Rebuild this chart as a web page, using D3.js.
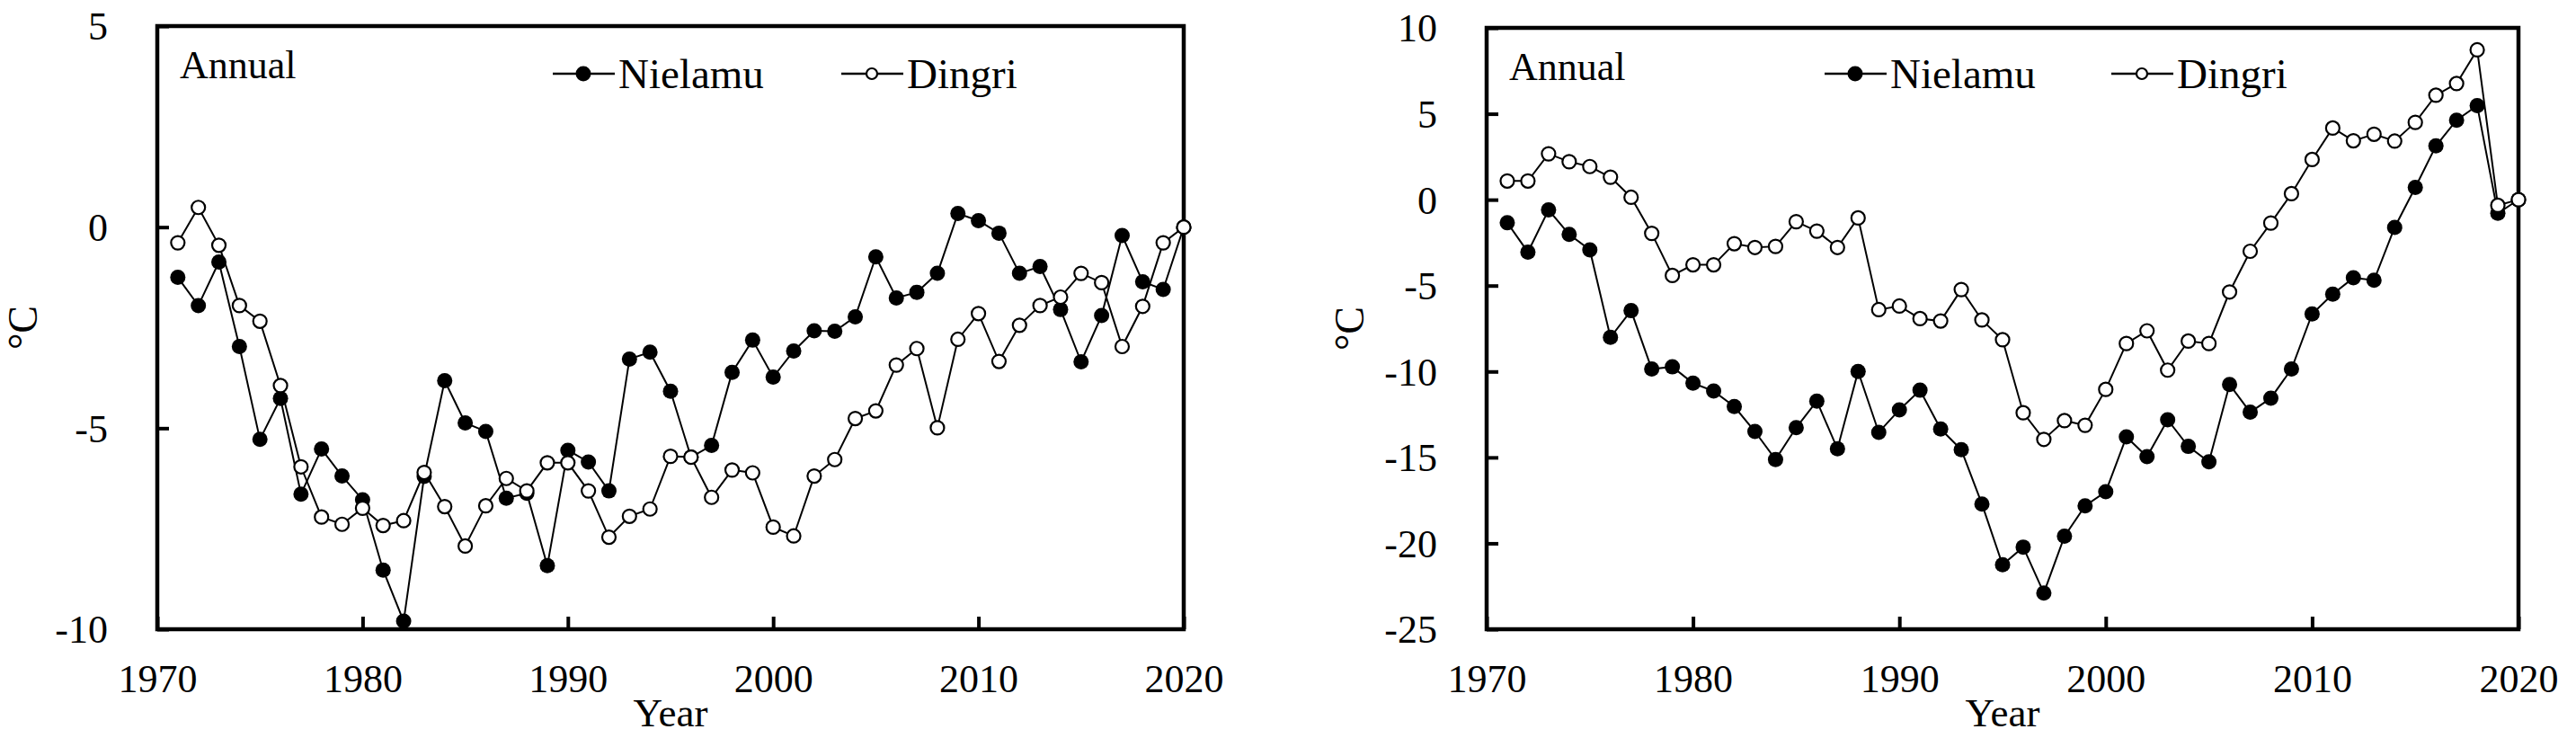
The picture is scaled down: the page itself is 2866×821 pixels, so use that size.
<!DOCTYPE html>
<html lang="en">
<head>
<meta charset="UTF-8">
<title>Annual Nielamu / Dingri</title>
<script src="https://d3js.org/d3.v7.min.js"></script>
<style>
  body { margin: 0; background: #fff; }
  svg { display: block; font-family: "Liberation Serif", "Times New Roman", serif; }
  svg text { font-family: "Liberation Serif", "Times New Roman", serif !important; }
</style>
</head>
<body>
<svg id="chart" width="2866" height="821"></svg>
<script>
// data
const years = d3.range(1971, 2021);

const nielamuLeft = [-1.25, -1.95, -0.87, -2.97, -5.28, -4.26, -6.64, -5.52, -6.19, -6.78,
  -8.53, -9.8, -6.2, -3.82, -4.87, -5.08, -6.74, -6.62, -8.42, -5.55,
  -5.84, -6.56, -3.28, -3.11, -4.08, -5.72, -5.43, -3.61, -2.81, -3.73,
  -3.08, -2.58, -2.59, -2.23, -0.74, -1.76, -1.62, -1.15, 0.34, 0.16,
  -0.15, -1.15, -0.98, -2.05, -3.35, -2.2, -0.21, -1.36, -1.55, 0];
const dingriLeft = [-0.39, 0.49, -0.45, -1.95, -2.34, -3.94, -5.96, -7.21, -7.39, -6.99,
  -7.42, -7.3, -6.1, -6.95, -7.93, -6.93, -6.25, -6.56, -5.86, -5.86,
  -6.56, -7.71, -7.19, -7.01, -5.7, -5.72, -6.72, -6.04, -6.11, -7.46,
  -7.68, -6.19, -5.78, -4.76, -4.57, -3.43, -3.02, -4.99, -2.79, -2.15,
  -3.34, -2.44, -1.95, -1.74, -1.15, -1.38, -2.97, -1.97, -0.39, 0];

const nielamuRight = [-1.34, -3.05, -0.6, -2.02, -2.92, -8.01, -6.46, -9.86, -9.73, -10.68,
  -11.14, -12.04, -13.49, -15.12, -13.27, -11.72, -14.5, -10.0, -13.54, -12.23,
  -11.09, -13.35, -14.55, -17.71, -21.25, -20.22, -22.89, -19.59, -17.82, -17.0,
  -13.81, -14.96, -12.81, -14.36, -15.26, -10.76, -12.37, -11.55, -9.86, -6.65,
  -5.5, -4.55, -4.69, -1.61, 0.71, 3.13, 4.63, 5.48, -0.79, 0];
const dingriRight = [1.09, 1.09, 2.67, 2.21, 1.93, 1.31, 0.14, -1.96, -4.41, -3.79,
  -3.79, -2.56, -2.78, -2.72, -1.28, -1.83, -2.78, -1.06, -6.4, -6.19,
  -6.92, -7.06, -5.23, -7.0, -8.15, -12.4, -13.95, -12.86, -13.13, -11.04,
  -8.37, -7.63, -9.92, -8.23, -8.37, -5.37, -3.0, -1.36, 0.35, 2.34,
  4.17, 3.43, 3.81, 3.41, 4.5, 6.08, 6.76, 8.72, -0.33, 0];

const xTicks = [1970, 1980, 1990, 2000, 2010, 2020];
const yTicksLeft = [5, 0, -5, -10];
const yTicksRight = [10, 5, 0, -5, -10, -15, -20, -25];
const seriesNames = ["Nielamu", "Dingri"];

const svg = d3.select("#chart");
const FONT = '"Liberation Serif", "Times New Roman", serif';

function panel(opts) {
  const { left, top, right, bottom, yDomain, yTicks, nielamu, dingri, legendX, ylabX } = opts;
  const g = svg.append("g");

  const x = d3.scaleLinear().domain([1970, 2020]).range([left, right]);
  const y = d3.scaleLinear().domain(yDomain).range([bottom, top]);

  // axes, ticks pointing inward; plain hyphen for negatives
  const xAxis = g.append("g")
    .attr("transform", `translate(0,${bottom})`)
    .call(d3.axisBottom(x).tickValues(xTicks).tickFormat(d => String(d))
      .tickSize(-14).tickPadding(39));
  const yAxis = g.append("g")
    .attr("transform", `translate(${left},0)`)
    .call(d3.axisLeft(y).tickValues(yTicks).tickFormat(d => String(d))
      .tickSize(-13).tickPadding(55));
  [xAxis, yAxis].forEach(a => {
    a.attr("font-family", null).attr("font-size", null);
    a.select(".domain").remove();
    a.selectAll(".tick line").attr("stroke", "#000").attr("stroke-width", 4);
    a.selectAll(".tick text").attr("fill", "#000")
      .style("font-family", FONT).style("font-size", "44px");
  });
  yAxis.selectAll(".tick text").attr("dy", "0.34em");

  // frame
  g.append("rect")
    .attr("x", left).attr("y", top)
    .attr("width", right - left).attr("height", bottom - top)
    .attr("fill", "none").attr("stroke", "#000").attr("stroke-width", 4.5);

  const line = d3.line().x((d, i) => x(years[i])).y(d => y(d));

  // Nielamu (filled)
  g.append("path").datum(nielamu)
    .attr("d", line).attr("fill", "none").attr("stroke", "#000").attr("stroke-width", 2);
  g.append("g").selectAll("circle").data(nielamu).join("circle")
    .attr("cx", (d, i) => x(years[i])).attr("cy", d => y(d))
    .attr("r", 8.5).attr("fill", "#000");

  // Dingri (open)
  g.append("path").datum(dingri)
    .attr("d", line).attr("fill", "none").attr("stroke", "#000").attr("stroke-width", 2);
  g.append("g").selectAll("circle").data(dingri).join("circle")
    .attr("cx", (d, i) => x(years[i])).attr("cy", d => y(d))
    .attr("r", 7.5).attr("fill", "#fff").attr("stroke", "#000").attr("stroke-width", 2.2);

  // labels
  g.append("text").attr("x", left + 25).attr("y", top + 58)
    .style("font-size", "44px").text("Annual");

  g.append("text").attr("x", (left + right) / 2).attr("y", 808)
    .attr("text-anchor", "middle").style("font-size", "45px").text("Year");

  g.append("text")
    .attr("transform", `translate(${ylabX},${(top + bottom) / 2}) rotate(-90)`)
    .attr("text-anchor", "middle").attr("dy", "0.35em")
    .style("font-size", "46px").text("°C");

  // legend
  const ly = 82;
  seriesNames.forEach((name, k) => {
    const lx = legendX[k];
    g.append("line").attr("x1", lx).attr("x2", lx + 69).attr("y1", ly).attr("y2", ly)
      .attr("stroke", "#000").attr("stroke-width", 2.5);
    const c = g.append("circle").attr("cx", lx + 34).attr("cy", ly);
    if (k === 0) c.attr("r", 8.5).attr("fill", "#000");
    else c.attr("r", 6).attr("fill", "#fff").attr("stroke", "#000").attr("stroke-width", 2.2);
    g.append("text").attr("x", lx + 73).attr("y", ly + 16)
      .style("font-size", "47px").text(name);
  });
}

panel({ left: 175, top: 29, right: 1317, bottom: 700, yDomain: [-10, 5], yTicks: yTicksLeft,
  nielamu: nielamuLeft, dingri: dingriLeft, legendX: [615, 936], ylabX: 25 });
panel({ left: 1654, top: 31, right: 2802, bottom: 700, yDomain: [-25, 10], yTicks: yTicksRight,
  nielamu: nielamuRight, dingri: dingriRight, legendX: [2030, 2349], ylabX: 1501 });
</script>
</body>
</html>
